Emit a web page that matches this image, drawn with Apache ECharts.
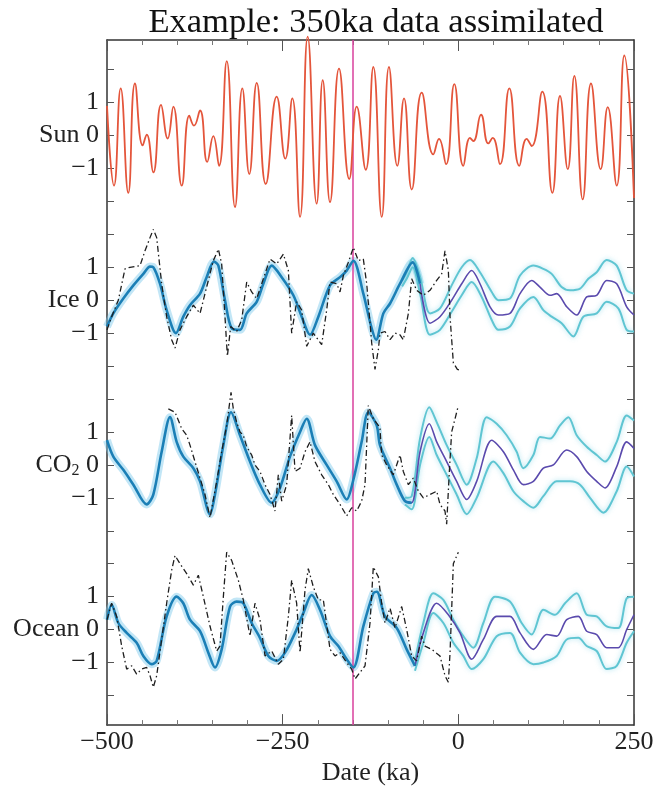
<!DOCTYPE html>
<html>
<head>
<meta charset="utf-8">
<title>Example: 350ka data assimilated</title>
<script src="https://cdn.jsdelivr.net/npm/echarts@6/dist/echarts.min.js"></script>
<style>
  html, body { margin: 0; padding: 0; background: #fff; }
  #chart { width: 658px; height: 791px; }
</style>
</head>
<body>
<div id="chart"></div>
<script>
// values: [date (ka), normalised value]
var sun = [[-500,0.9],[-490,-1.52],[-480.5,1.43],[-469.7,-1.74],[-460.2,1.58],[-449.2,-0.3],[-443.5,0.03],[-434.1,-1.12],[-423.1,0.93],[-413.6,-0.09],[-405.6,0.88],[-393.7,-1.52],[-382.9,0.6],[-376.2,0.3],[-367.6,0.76],[-357.3,-0.8],[-348.7,-0.02],[-340.6,-0.92],[-329.6,2.26],[-317.8,-2.17],[-307.4,1.43],[-297.5,-1.17],[-286.9,1.6],[-274.1,-1.47],[-258.5,1.18],[-246.2,-0.7],[-236.3,1.13],[-225.3,-2.47],[-214.4,3.0],[-201.6,-2.07],[-193.0,1.68],[-182.6,-2.02],[-169.8,2.03],[-155.2,-1.32],[-144.6,0.88],[-131.8,-1.04],[-121.0,2.08],[-109.0,-2.47],[-98.7,2.08],[-86.8,-0.92],[-77.3,1.13],[-66.3,-1.64],[-52.1,1.3],[-35.6,-0.57],[-27.5,-0.1],[-17.5,-0.87],[-5.7,1.56],[7.1,-0.92],[16.6,-0.07],[21.3,-0.17],[32.3,0.63],[42.7,-0.24],[48.9,-0.07],[59.3,-0.87],[72.6,1.43],[86.8,-0.92],[97.3,-0.1],[104.4,-0.32],[119.5,1.33],[133.8,-1.74],[144.7,1.2],[155.7,-1.02],[165.1,1.81],[177.0,-1.94],[188.8,1.58],[202.6,-1.02],[212.6,0.86],[225.4,-1.52],[236.2,2.43],[250,-1.9]];

var iceObs = [[-500,-0.9],[-493.4,-0.5],[-483.9,0],[-474.4,0.95],[-467.3,1.0],[-453,1.05],[-445.9,1.5],[-438.8,1.9],[-434.1,2.15],[-429.3,1.9],[-422.2,0.5],[-415.1,-0.5],[-408,-1.2],[-403.2,-1.45],[-396.1,-0.9],[-386.6,-0.5],[-377.1,-0.15],[-367.6,-0.4],[-358.2,0.4],[-348.7,1.2],[-341.5,1.55],[-336.8,1.1],[-332.1,-0.5],[-328.7,-1.7],[-324,-0.8],[-315.5,-0.95],[-308.3,-0.6],[-301.2,0.55],[-294.1,0.25],[-287,0.05],[-277.5,0.65],[-268,1.25],[-258.5,1.1],[-249,1.4],[-241.9,0.9],[-237.2,-1.0],[-230.1,-0.05],[-222.9,-0.3],[-215.8,-1.4],[-206.4,-1.0],[-194.5,-1.35],[-187.4,-0.3],[-182.6,0.55],[-173.1,0.5],[-168.4,0.25],[-163.6,0.75],[-156.5,1.15],[-149.4,1.6],[-142.3,1.2],[-135.2,1.25],[-130.4,0.5],[-123.3,-1.3],[-118.6,-2.1],[-113.8,-1.5],[-111.5,-1.0],[-104.4,-0.95],[-97.2,-1.2],[-90.1,-1.0],[-83,-1.05],[-78.3,-1.2],[-71.1,-0.4],[-66.4,0.65],[-59.3,0.3],[-49.8,0.15],[-40.3,0.3],[-30.8,0.6],[-23.7,0.8],[-19,1.5],[-14.2,0.9],[-11.8,-0.5],[-7.1,-1.9],[-1.4,-2.1],[2.4,-2.12]];
var iceMean = [[-500,-0.8],[-491,-0.4],[-476.8,0.05],[-462.5,0.45],[-448.3,0.8],[-438.8,1.02],[-434.1,1.0],[-424.6,0.5],[-415.1,-0.3],[-401.8,-1.0],[-391.4,-0.5],[-381.9,-0.15],[-367.6,0.2],[-358.2,0.7],[-347.7,1.17],[-341.5,1.05],[-332.1,0],[-322.6,-0.85],[-310.7,-0.9],[-301.2,-0.4],[-287,-0.05],[-277.5,0.5],[-265.6,1.05],[-251.4,0.7],[-234.8,0.15],[-222.9,-0.5],[-211.1,-1.05],[-199.2,-0.5],[-182.6,0.45],[-168.4,0.7],[-158.9,0.9],[-149.4,1.2],[-135.2,0.2],[-124,-0.8],[-117,-1.2],[-106.7,-0.4],[-97.2,-0.1],[-83,0.5],[-65,1.15],[-54.5,0.5],[-40.3,-0.7],[-26.1,-0.5],[-9.5,0],[4.8,0.5],[19,0.9],[30.8,0.5],[45.1,-0.2],[57,-0.45],[73.5,-0.4],[87.8,0.2],[104.4,0.6],[116.2,0.4],[130.5,0.15],[140,0.2],[154.2,-0.2],[168.4,-0.45],[182.7,0.1],[196.9,0.15],[211.1,0.6],[225.4,0.5],[239.6,-0.2],[250,-0.45]];
var iceUpper = [[-80,0.6],[-73.5,0.85],[-65,1.28],[-54.5,0.72],[-40.3,-0.4],[-26.1,-0.25],[-9.5,0.45],[4.8,1.0],[16.6,1.22],[30.8,0.85],[47.5,0.25],[57,0],[73.5,0.05],[87.8,0.75],[106.8,1.05],[121,0.95],[132.8,0.8],[147,0.4],[159,0.3],[173.2,0.35],[185,0.65],[196.9,0.85],[211.1,1.22],[225.4,1.05],[239.6,0.3],[250,0.2]];
var iceLower = [[-80,0.42],[-73.5,0.65],[-65,1.0],[-54.5,0.2],[-40.3,-1.05],[-26.1,-0.9],[-9.5,-0.35],[4.8,0.15],[19,0.55],[33.2,0.1],[47.5,-0.6],[57,-0.9],[73.5,-0.8],[87.8,-0.25],[106.8,0.1],[121,-0.3],[132.8,-0.5],[147,-0.7],[163.7,-1.1],[177.9,-0.5],[196.9,-0.4],[211.1,-0.05],[227.7,-0.25],[239.6,-0.9],[250,-0.95]];

var co2Obs = [[-412.7,1.7],[-403.2,1.6],[-393.7,1.1],[-386.6,0.9],[-381.9,0.6],[-374.8,0.1],[-367.6,-0.4],[-360.5,-0.9],[-353.4,-1.6],[-343.9,-0.5],[-336.8,0.4],[-329.7,1.2],[-323.5,2.2],[-320.2,1.7],[-315.5,1.3],[-310.7,1.0],[-306,0.9],[-301.2,0.55],[-294.1,0.3],[-289.4,0],[-282.3,-0.2],[-275.1,-0.6],[-268,-0.9],[-260.9,-1.4],[-256.2,-0.3],[-251.4,-1.1],[-244.3,-0.6],[-237.2,1.5],[-232.4,-0.2],[-225.3,-0.1],[-218.2,0.4],[-211.1,0.7],[-204,0.1],[-194.5,-0.3],[-185,-0.6],[-177.9,-0.9],[-168.4,-1.2],[-158.9,-1.55],[-151.8,-1.3],[-144.7,-1.4],[-137.6,-1.1],[-132.8,-0.6],[-128.1,1.8],[-121,1.4],[-113.8,1.2],[-111.5,1.1],[-109.1,0.3],[-102,0],[-92.5,-0.3],[-83,0.3],[-78.3,-0.2],[-71.1,-0.6],[-64,-0.4],[-56.9,-0.8],[-49.8,-1.0],[-40.3,-0.9],[-30.8,-0.8],[-26.1,-1.2],[-19,-1.4],[-16.6,-1.8],[-12.8,-0.2],[-9.5,1.0],[-4.7,1.4],[0,1.8]];
var co2Mean = [[-500,0.75],[-491,0.25],[-476.8,-0.15],[-462.5,-0.6],[-443.5,-1.2],[-434.1,-0.9],[-422.2,0.4],[-410.3,1.45],[-400.9,0.7],[-391.4,0.25],[-377.1,-0.1],[-367.6,-0.5],[-353.4,-1.5],[-346.3,-0.9],[-334.4,0.6],[-323.5,1.6],[-310.7,0.9],[-296.5,0.1],[-282.3,-0.6],[-265.6,-1.15],[-253.8,-0.7],[-239.6,0.25],[-225.3,1.0],[-215.8,1.4],[-204,0.6],[-187.4,0],[-173.1,-0.5],[-158.9,-1.05],[-149.4,-0.45],[-137.6,0.7],[-128.1,1.6],[-116.2,1.2],[-111.5,0.6],[-97.2,-0.1],[-87.7,-0.6],[-75.9,-1.1],[-66.4,-1.15],[-54.5,0.4],[-41.3,1.25],[-30.8,0.7],[-16.6,0.1],[-2.4,-0.5],[11.9,-1.05],[26.1,-0.5],[47.5,0.75],[64.1,0.4],[78.3,-0.15],[92.5,-0.6],[106.8,-0.5],[121,-0.1],[135.2,0],[154.2,0.45],[168.4,0.25],[182.7,-0.2],[196.9,-0.5],[208.8,-0.7],[225.4,-0.05],[239.6,0.7],[250,0.5]];
var co2Upper = [[-76,-1.0],[-66.4,-0.95],[-54.5,0.8],[-41.3,1.75],[-30.8,1.3],[-16.6,0.6],[-2.4,0],[11.9,-0.6],[26.1,0.2],[40.4,1.45],[54.6,1.25],[68.8,0.9],[83,0.4],[92.5,-0.1],[106.8,0.3],[116.2,0.85],[130.5,0.8],[144.7,1.2],[156.6,1.45],[168.4,0.9],[182.7,0.55],[196.9,0.3],[208.8,0.1],[225.4,0.7],[239.6,1.5],[250,1.35]];
var co2Lower = [[-76,-1.2],[-66.4,-1.35],[-54.5,0.0],[-41.3,0.85],[-30.8,0.3],[-16.6,-0.3],[-2.4,-0.9],[11.9,-1.5],[26.1,-1.0],[49.9,0.1],[64.1,-0.25],[78.3,-0.8],[92.5,-1.1],[106.8,-1.3],[121,-0.95],[140,-0.5],[159,-0.5],[173.2,-0.6],[187.4,-1.0],[206.4,-1.45],[225.4,-0.8],[239.6,-0.05],[250,-0.35]];

var oceanObs = [[-500,0.3],[-493.4,0.8],[-486.2,0.4],[-479.1,-0.5],[-472,-1.2],[-464.9,-1.1],[-457.8,-1.35],[-450.7,-1.2],[-443.5,-1.15],[-438.8,-1.4],[-434.1,-1.75],[-429.3,-1.4],[-422.2,-0.3],[-415.1,0.8],[-408,1.8],[-403.2,2.25],[-396.1,2.0],[-386.6,1.7],[-377.1,1.35],[-370,1.65],[-362.9,1.0],[-353.4,0.1],[-343.9,-0.65],[-339.2,-0.5],[-334.4,1.0],[-329.7,2.35],[-322.6,2.1],[-313.1,1.5],[-306,0.9],[-296.5,-0.2],[-289.4,0.8],[-282.3,0.3],[-275.1,-0.8],[-265.6,-0.65],[-256.2,-1.05],[-249,-0.9],[-241.9,0.4],[-237.2,1.5],[-230.1,0.8],[-225.3,-0.7],[-218.2,1.2],[-213.5,1.85],[-206.4,1.3],[-199.2,0.9],[-192.1,0.9],[-182.6,-0.6],[-175.5,-0.8],[-168.4,-0.7],[-158.9,-1.0],[-151.8,-1.2],[-147,-1.5],[-139.9,-1.3],[-132.8,-1.1],[-125.7,0.2],[-121,1.9],[-113.8,1.6],[-109.1,0.8],[-104.4,0.2],[-97.2,0.65],[-90.1,0.05],[-80.6,0.7],[-73.5,0],[-66.4,-0.8],[-59.3,-0.95],[-52.2,-0.2],[-47.4,-0.5],[-37.9,-0.6],[-26.1,-0.8],[-19,-1.4],[-14.2,-1.6],[-11.8,-0.7],[-9.5,0.6],[-7.1,2.0],[0,2.35]];
var oceanMean = [[-500,0.3],[-493.4,0.75],[-483.9,0.2],[-472,-0.1],[-457.8,-0.4],[-448.3,-0.8],[-436.4,-1.05],[-429.3,-0.95],[-415.1,0.4],[-400.9,1.0],[-391.4,0.8],[-381.9,0.3],[-367.6,-0.05],[-355.8,-0.7],[-346.3,-1.15],[-336.8,-0.6],[-324.9,0.7],[-315.5,0.85],[-306,0.8],[-294.1,0.2],[-282.3,-0.25],[-270.4,-0.8],[-258.5,-0.95],[-246.7,-0.7],[-232.4,-0.1],[-220.6,0.5],[-208.7,1.05],[-196.9,0.6],[-182.6,-0.2],[-170.8,-0.5],[-158.9,-0.9],[-149.4,-1.15],[-135.2,0.1],[-121,1.1],[-116,1.15],[-104.4,0.4],[-87.7,0.05],[-73.5,-0.6],[-61.7,-1.1],[-49.8,-0.1],[-30.8,0.8],[-14.2,0.45],[2.4,-0.1],[19,-0.9],[35.6,-0.3],[54.6,0.4],[73.5,0.4],[87.8,-0.1],[106.8,-0.6],[125.7,-0.15],[140,-0.2],[154.2,0.3],[170.8,0.4],[182.7,-0.05],[196.9,-0.15],[211.1,-0.55],[227.7,-0.55],[239.6,0],[250,0.45]];
var oceanUpper = [[-61.7,-0.95],[-49.8,0.2],[-35.6,1.1],[-21.3,0.9],[-7.1,0.3],[7.1,-0.2],[21.3,-0.55],[35.6,0.2],[52.2,1.0],[73.5,0.85],[90.1,0.2],[104.4,-0.15],[121,0.6],[137.6,0.45],[151.8,0.8],[168.4,1.1],[182.7,0.45],[196.9,0.4],[211.1,0.1],[227.7,0.05],[239.6,0.95],[250,1.0]];
var oceanLower = [[-61.7,-1.25],[-49.8,-0.4],[-35.6,0.5],[-21.3,0.2],[-7.1,-0.4],[7.1,-0.8],[19,-1.2],[35.6,-0.9],[54.6,-0.2],[73.5,-0.1],[87.8,-0.7],[106.8,-1.05],[121,-1.0],[140,-0.8],[154.2,-0.3],[170.8,-0.25],[182.7,-0.5],[196.9,-0.65],[211.1,-1.2],[225.4,-1.1],[239.6,-0.4],[250,-0.05]];

// panels, bottom to top, each stacked 5 units apart on one shared y axis
var panelNames = ['Ocean', 'CO2', 'Ice', 'Sun'];
var panelStep = 5;
var yTickValues = [-2,-1,0,1,2,3,4,5,6,7,8,9,10,11,12,13,14,15,16,17];
var yLabelValues = [-1,0,1,4,5,6,9,10,11,14,15,16];
var assimilatedEnd = -150;

var FONT = 'Liberation Serif, Times New Roman, serif';

function shift(d, off) { return d.map(function (p) { return [p[0], p[1] + off]; }); }
function upTo(d, t) { return d.filter(function (p) { return p[0] <= t; }); }
function from(d, t) { return d.filter(function (p) { return p[0] >= t; }); }

function panel(obs, mean, upper, lower, idx, cut) {
  var off = idx * panelStep;
  var bandStyle = { color: '#5fc5d2', width: 2, shadowBlur: 5, shadowColor: 'rgba(120,210,230,0.7)' };
  return [
    { type: 'line', data: shift(upTo(mean, cut), off), showSymbol: false, smooth: 0.3,
      lineStyle: { color: 'rgba(120,200,235,0.45)', width: 8 }, z: 2 },
    { type: 'line', data: shift(upper, off), showSymbol: false, smooth: 0.3, lineStyle: bandStyle, z: 3 },
    { type: 'line', data: shift(lower, off), showSymbol: false, smooth: 0.3, lineStyle: bandStyle, z: 3 },
    { type: 'line', data: shift(from(mean, cut - 15), off), showSymbol: false, smooth: 0.3,
      lineStyle: { color: '#5a4aad', width: 1.6 }, z: 4 },
    { type: 'line', data: shift(upTo(mean, cut), off), showSymbol: false, smooth: 0.3,
      lineStyle: { color: '#1b7fb6', width: 2.6 }, z: 5 },
    { type: 'line', data: shift(obs, off), showSymbol: false,
      lineStyle: { color: '#1e1e1e', width: 1.3, type: [6, 3, 1.5, 3] }, z: 6 }
  ];
}

var series = []
  .concat(panel(oceanObs, oceanMean, oceanUpper, oceanLower, 0, -58))
  .concat(panel(co2Obs, co2Mean, co2Upper, co2Lower, 1, -62))
  .concat(panel(iceObs, iceMean, iceUpper, iceLower, 2, -42));

series.push({
  type: 'line', data: shift(sun, 3 * panelStep), showSymbol: false, smooth: true, clip: false,
  lineStyle: { color: '#e4553b', width: 1.8 }, z: 7,
  markLine: {
    silent: true, symbol: 'none', label: { show: false },
    lineStyle: { color: '#d8409d', width: 1.5, type: 'solid' },
    data: [{ xAxis: assimilatedEnd }]
  }
});

function yLabel(v) {
  var idx = Math.round(v / panelStep);
  var local = Math.round(v - idx * panelStep);
  if (local === 1) return '1';
  if (local === -1) return '\u22121';
  var n = panelNames[idx];
  if (n === 'CO2') return '{t|CO}{s|2}{t| 0}';
  return n + ' 0';
}

var frameLine = { onZero: false, show: true, lineStyle: { color: '#333', width: 1.5 } };

var chart = echarts.init(document.getElementById('chart'));
chart.setOption({
  animation: false,
  backgroundColor: '#fff',
  title: {
    text: 'Example: 350ka data assimilated',
    left: 371, top: 0, textAlign: 'center',
    textStyle: { fontFamily: FONT, fontSize: 34.5, fontWeight: 'normal', color: '#111' }
  },
  grid: { left: 107, right: 24, top: 40, bottom: 58 },
  xAxis: [{
    type: 'value', min: -500, max: 250, interval: 250, position: 'bottom',
    name: 'Date (ka)', nameLocation: 'middle', nameGap: 30,
    nameTextStyle: { fontFamily: FONT, fontSize: 26, color: '#222' },
    axisLine: frameLine,
    axisTick: { inside: true, length: 11, lineStyle: { color: '#555' } },
    minorTick: { show: true, splitNumber: 5, length: 5, lineStyle: { color: '#777' } },
    splitLine: { show: false },
    axisLabel: { fontFamily: FONT, fontSize: 26, color: '#222', margin: 4,
      formatter: function (v) { return v < 0 ? '\u2212' + Math.abs(v) : String(v); } }
  }, {
    type: 'value', min: -500, max: 250, interval: 250, position: 'top',
    axisLine: frameLine,
    axisTick: { inside: true, length: 11, lineStyle: { color: '#555' } },
    minorTick: { show: true, splitNumber: 5, length: 5, lineStyle: { color: '#777' } },
    splitLine: { show: false }, axisLabel: { show: false }
  }],
  yAxis: [{
    type: 'value', min: -2.9, max: 17.9, position: 'left',
    axisLine: frameLine,
    axisTick: { show: true, inside: true, length: 7, customValues: yTickValues, lineStyle: { color: '#555' } },
    splitLine: { show: false },
    axisLabel: {
      customValues: yLabelValues, formatter: yLabel, margin: 8,
      fontFamily: FONT, fontSize: 26, color: '#222',
      rich: {
        t: { fontFamily: FONT, fontSize: 26, color: '#222' },
        s: { fontFamily: FONT, fontSize: 16, color: '#222', padding: [12, 0, 0, 0] }
      }
    }
  }, {
    type: 'value', min: -2.9, max: 17.9, position: 'right',
    axisLine: frameLine,
    axisTick: { show: true, inside: true, length: 7, customValues: yTickValues, lineStyle: { color: '#555' } },
    splitLine: { show: false }, axisLabel: { show: false }
  }],
  series: series
});
</script>
</body>
</html>
